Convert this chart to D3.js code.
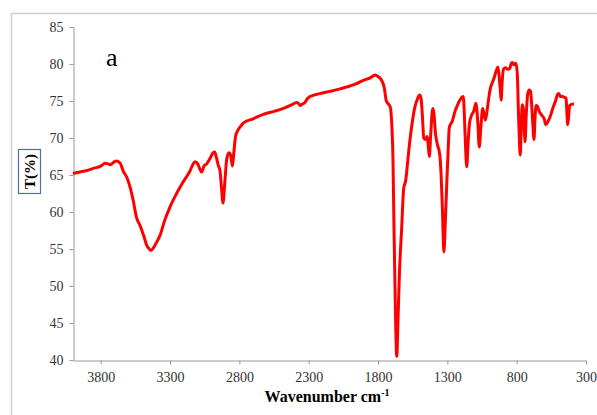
<!DOCTYPE html>
<html>
<head>
<meta charset="utf-8">
<script src="https://cdn.jsdelivr.net/npm/d3@7"></script>
<style>
  body { margin: 0; background: #fff; }
  text { font-family: "Liberation Serif", "Times New Roman", serif; }
</style>
</head>
<body>
<div class="canvas"></div>
<script>
// spectrum values (wavenumber, transmittance %)
const wavenumber = [
  4000, 3950, 3900, 3854, 3800, 3769, 3745, 3733, 3700, 3685, 3660, 3637, 3610, 3589, 3565, 3541,
  3517, 3490, 3468, 3450, 3437, 3415, 3395, 3373, 3340, 3300, 3250, 3205, 3160, 3130, 3120, 3100,
  3085, 3072, 3055, 3036, 3010, 2990, 2978, 2965, 2952, 2940, 2930, 2918, 2905, 2891, 2875, 2862,
  2850, 2840, 2828, 2815, 2790, 2772, 2700, 2628, 2550, 2483, 2420, 2387, 2370, 2363, 2345, 2327,
  2310, 2291, 2220, 2147, 2080, 2026, 1960, 1906, 1860, 1835, 1822, 1800, 1774, 1755, 1740, 1725,
  1712, 1700, 1692, 1685, 1675, 1665, 1655, 1645, 1630, 1615, 1600, 1585, 1570, 1550, 1534, 1515,
  1500, 1490, 1480, 1470, 1458, 1445, 1438, 1430, 1420, 1405, 1398, 1385, 1370, 1355, 1345, 1335,
  1325, 1315, 1305, 1295, 1286, 1262, 1245, 1221, 1200, 1185, 1175, 1167, 1160, 1150, 1140, 1125,
  1110, 1094, 1080, 1070, 1058, 1045, 1035, 1025, 1010, 993, 965, 945, 935, 925, 918, 912,
  905, 895, 880, 865, 850, 840, 832, 820, 805, 795, 788, 780, 774, 768, 760, 752,
  745, 740, 730, 720, 709, 700, 692, 684, 675, 668, 660, 651, 635, 620, 600, 590,
  575, 560, 540, 520, 505, 495, 485, 471, 455, 444, 438, 432, 425, 418, 410, 395, 387
];
const transmittance = [
  65.2, 65.4, 65.6, 65.9, 66.2, 66.6, 66.5, 66.4, 66.8, 66.9, 66.6, 65.5, 64.6, 63.4, 61.5, 59.2,
  58.2, 56.8, 55.5, 55.0, 54.8, 55.3, 56.0, 56.8, 58.8, 60.7, 62.6, 64.1, 65.4, 66.6, 66.8, 66.5,
  65.8, 65.4, 66.2, 66.5, 67.3, 68.0, 68.1, 67.3, 66.3, 65.6, 63.5, 61.2, 64.0, 67.2, 68.0, 67.6,
  66.2, 68.0, 70.2, 70.9, 71.6, 72.0, 72.6, 73.2, 73.6, 74.0, 74.5, 74.8, 74.6, 74.4, 74.6, 74.8,
  75.3, 75.6, 76.0, 76.3, 76.6, 76.9, 77.3, 77.8, 78.1, 78.4, 78.5, 78.3, 77.8, 76.8, 75.0, 74.6,
  74.2, 71.5, 67.0, 58.0, 47.0, 40.5, 46.0, 52.0, 57.6, 63.2, 64.3, 67.0, 69.7, 72.5, 74.2, 75.3,
  75.8, 75.4, 73.0, 70.0, 69.8, 70.2, 69.0, 67.5, 70.5, 74.0, 73.5, 70.5, 69.0, 67.8, 65.0, 60.0,
  54.6, 58.5, 63.5, 68.0, 71.4, 72.4, 73.6, 74.7, 75.4, 75.6, 72.0, 68.0, 66.1, 69.5, 72.0, 73.1,
  73.6, 74.7, 72.0, 68.8, 71.5, 74.0, 73.2, 72.4, 74.2, 76.4, 78.0, 79.2, 79.6, 78.0, 76.5, 75.1,
  77.5, 79.3, 79.5, 79.3, 79.4, 80.0, 80.2, 79.9, 80.1, 78.5, 74.0, 69.5, 67.7, 71.0, 74.5, 74.0,
  71.0, 69.5, 73.5, 76.0, 76.5, 76.3, 74.5, 72.0, 69.8, 72.5, 74.4, 74.3, 73.5, 73.1, 72.5, 71.8,
  72.2, 72.8, 74.0, 75.0, 75.9, 76.0, 75.6, 75.6, 75.5, 75.4, 73.5, 71.8, 73.0, 74.4, 74.5, 74.6, 74.6
];
const xTicks = [3800, 3300, 2800, 2300, 1800, 1300, 800, 300];
const yTicks = [40, 45, 50, 55, 60, 65, 70, 75, 80, 85];

const data = wavenumber.map((w, i) => ({w: w, t: transmittance[i]}));

const svg = d3.select('.canvas')
  .append('svg')
    .attr('width', 597)
    .attr('height', 415);

// outer chart frame
svg.append('rect')
  .attr('x', 11.5)
  .attr('y', 13.5)
  .attr('width', 640)
  .attr('height', 440)
  .attr('fill', 'none')
  .attr('stroke', '#d0d0d0')
  .attr('stroke-width', 1.5);

const x = d3.scaleLinear()
  .domain([4000, 300])
  .range([73, 586]);

const y = d3.scaleLinear()
  .domain([40, 85])
  .range([360, 27]);

// axes
const xAxis = d3.axisBottom(x)
  .tickValues(xTicks)
  .tickSize(4)
  .tickSizeOuter(0)
  .tickPadding(8)
  .tickFormat(d3.format('d'));

const yAxis = d3.axisLeft(y)
  .tickValues(yTicks)
  .tickSize(4)
  .tickSizeOuter(0)
  .tickPadding(6)
  .tickFormat(d3.format('d'));

const xAxisGroup = svg.append('g')
  .attr('transform', 'translate(0, 360.5)')
  .call(xAxis);

const yAxisGroup = svg.append('g')
  .attr('transform', 'translate(73.5, 0)')
  .call(yAxis);

[xAxisGroup, yAxisGroup].forEach(g => {
  g.select('.domain').attr('stroke', '#999').attr('stroke-width', 1);
  g.selectAll('line').attr('stroke', '#999');
  g.selectAll('text')
    .attr('fill', '#333')
    .style('font-family', '"Liberation Serif", serif')
    .style('font-size', '14px');
});

// spectrum line
const line = d3.line()
  .x(d => x(d.w))
  .y(d => y(d.t))
  .curve(d3.curveMonotoneX);

svg.append('path')
  .datum(data)
  .attr('d', line)
  .attr('fill', 'none')
  .attr('stroke', '#ff0000')
  .attr('stroke-width', 3)
  .attr('stroke-linejoin', 'round');

// panel letter
svg.append('text')
  .attr('x', 106)
  .attr('y', 66)
  .attr('font-size', 26)
  .text('a');

// y label in a box
svg.append('rect')
  .attr('x', 18.5)
  .attr('y', 149.5)
  .attr('width', 22)
  .attr('height', 44)
  .attr('fill', '#fff')
  .attr('stroke', '#4f6fa0')
  .attr('stroke-width', 1.2);

svg.append('text')
  .attr('transform', 'translate(35, 171.5) rotate(-90)')
  .attr('text-anchor', 'middle')
  .attr('font-size', 15)
  .attr('font-weight', 'bold')
  .text('T(%)');

// x title
const title = svg.append('text')
  .attr('x', 327)
  .attr('y', 402)
  .attr('text-anchor', 'middle')
  .attr('font-size', 16)
  .attr('font-weight', 'bold');
title.append('tspan').text('Wavenumber cm');
title.append('tspan')
  .attr('dy', -6)
  .attr('font-size', 10)
  .text('-1');
</script>
</body>
</html>
